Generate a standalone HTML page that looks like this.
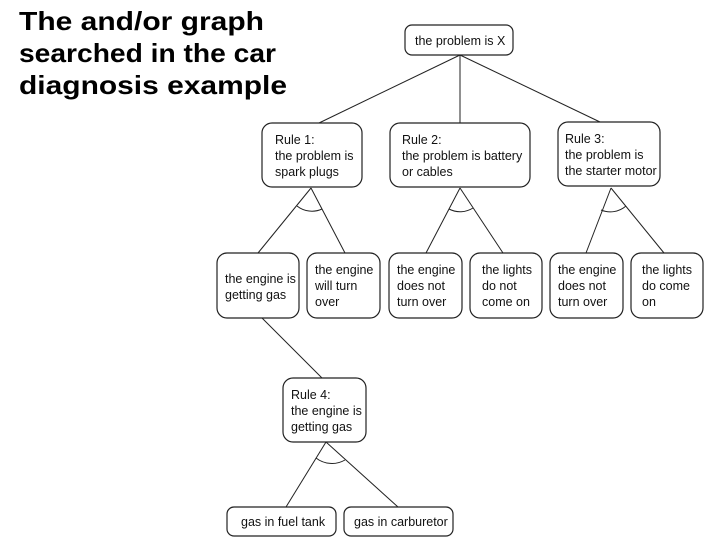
<!DOCTYPE html>
<html><head><meta charset="utf-8"><style>
html,body{margin:0;padding:0;background:#fff;width:720px;height:540px;overflow:hidden}
svg{display:block}
.t{font-family:"Liberation Sans",Arial,sans-serif;font-size:12.5px;fill:#111}
.h{font-family:"Liberation Sans",Arial,sans-serif;font-size:26px;font-weight:bold;fill:#000}
rect{fill:#fff;stroke:#222;stroke-width:1.2}
line,path{stroke:#222;stroke-width:1;fill:none}
</style></head><body>
<svg width="720" height="540" viewBox="0 0 720 540">
<text class="h" x="19" y="30" textLength="245" lengthAdjust="spacingAndGlyphs">The and/or graph</text>
<text class="h" x="19" y="62" textLength="257" lengthAdjust="spacingAndGlyphs">searched in the car</text>
<text class="h" x="19" y="94" textLength="268" lengthAdjust="spacingAndGlyphs">diagnosis example</text>

<line x1="460" y1="55" x2="319" y2="123"/>
<line x1="460" y1="55" x2="460" y2="123"/>
<line x1="460" y1="55" x2="600" y2="122"/>

<line x1="311" y1="188" x2="258" y2="253"/>
<line x1="311" y1="188" x2="345" y2="253"/>
<path d="M297,206 A24,24 0 0 0 322,209"/>
<line x1="460" y1="188" x2="426" y2="253"/>
<line x1="460" y1="188" x2="503" y2="253"/>
<path d="M449,209 A24,24 0 0 0 473,208"/>
<line x1="611" y1="188" x2="586" y2="253"/>
<line x1="611" y1="188" x2="664" y2="253"/>
<path d="M601,210 A24,24 0 0 0 626,206"/>

<line x1="262" y1="318" x2="322" y2="378"/>
<line x1="326" y1="442" x2="286" y2="507"/>
<line x1="326" y1="442" x2="398" y2="507"/>
<path d="M316,458 A26,26 0 0 0 345,460"/>

<rect x="405" y="25" width="108" height="30" rx="7"/>
<text class="t" x="415" y="45">the problem is X</text>

<rect x="262" y="123" width="100" height="64" rx="10"/>
<text class="t" x="275" y="144">Rule 1:</text>
<text class="t" x="275" y="160">the problem is</text>
<text class="t" x="275" y="176">spark plugs</text>
<rect x="390" y="123" width="140" height="64" rx="10"/>
<text class="t" x="402" y="144">Rule 2:</text>
<text class="t" x="402" y="160">the problem is battery</text>
<text class="t" x="402" y="176">or cables</text>
<rect x="558" y="122" width="102" height="64" rx="10"/>
<text class="t" x="565" y="143">Rule 3:</text>
<text class="t" x="565" y="159">the problem is</text>
<text class="t" x="565" y="175">the starter motor</text>

<rect x="217" y="253" width="82" height="65" rx="10"/>
<text class="t" x="225" y="283">the engine is</text>
<text class="t" x="225" y="299">getting gas</text>
<rect x="307" y="253" width="73" height="65" rx="10"/>
<text class="t" x="315" y="274">the engine</text>
<text class="t" x="315" y="290">will turn</text>
<text class="t" x="315" y="306">over</text>
<rect x="389" y="253" width="73" height="65" rx="10"/>
<text class="t" x="397" y="274">the engine</text>
<text class="t" x="397" y="290">does not</text>
<text class="t" x="397" y="306">turn over</text>
<rect x="470" y="253" width="72" height="65" rx="10"/>
<text class="t" x="482" y="274">the lights</text>
<text class="t" x="482" y="290">do not</text>
<text class="t" x="482" y="306">come on</text>
<rect x="550" y="253" width="73" height="65" rx="10"/>
<text class="t" x="558" y="274">the engine</text>
<text class="t" x="558" y="290">does not</text>
<text class="t" x="558" y="306">turn over</text>
<rect x="631" y="253" width="72" height="65" rx="10"/>
<text class="t" x="642" y="274">the lights</text>
<text class="t" x="642" y="290">do come</text>
<text class="t" x="642" y="306">on</text>

<rect x="283" y="378" width="83" height="64" rx="10"/>
<text class="t" x="291" y="399">Rule 4:</text>
<text class="t" x="291" y="415">the engine is</text>
<text class="t" x="291" y="431">getting gas</text>

<rect x="227" y="507" width="109" height="29" rx="7"/>
<text class="t" x="241" y="526">gas in fuel tank</text>
<rect x="344" y="507" width="109" height="29" rx="7"/>
<text class="t" x="354" y="526">gas in carburetor</text>
</svg>
</body></html>
